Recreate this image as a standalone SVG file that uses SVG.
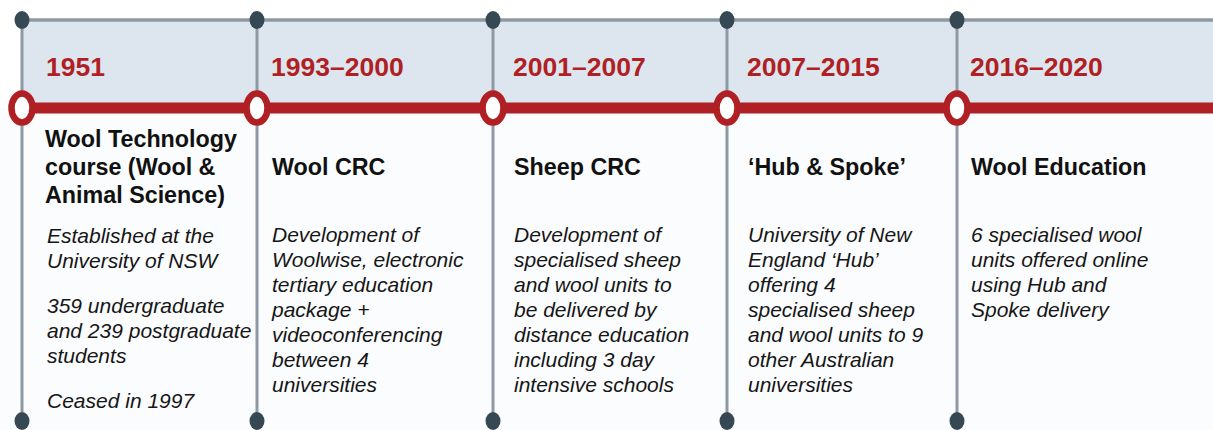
<svg xmlns="http://www.w3.org/2000/svg" width="1213" height="430" viewBox="0 0 1213 430">
  <style>
    .year { font-family: "Liberation Sans", Arial, sans-serif; font-weight: bold; font-size: 26.5px; fill: #b01f24; }
    .title { font-family: "Liberation Sans", Arial, sans-serif; font-weight: bold; font-size: 23.3px; fill: #111111; }
    .body { font-family: "Liberation Sans", Arial, sans-serif; font-style: italic; font-size: 21px; fill: #161616; }
    .rail { stroke: #8d9aa4; stroke-width: 3.5; fill: none; }
    .post { stroke: #8d9aa4; stroke-width: 3; fill: none; }
    .dot { fill: #364854; }
    .ring { fill: #ffffff; stroke: #b01f24; stroke-width: 6.5; }
  </style>

  <!-- background -->
  <rect x="0" y="0" width="1213" height="430" fill="#ffffff"/>
  <rect x="0" y="108" width="1213" height="322" fill="#fbfcfd"/>
  <!-- header band -->
  <rect x="22" y="20" width="1191" height="88" fill="#dde6ee"/>

  <g id="connectors">
    <!-- top rail -->
    <line class="rail" x1="22" y1="20" x2="1213" y2="20"/>
    <!-- vertical posts -->
    <line class="post" x1="22" y1="20" x2="22" y2="421"/>
    <line class="post" x1="257" y1="20" x2="257" y2="421"/>
    <line class="post" x1="493" y1="20" x2="493" y2="421"/>
    <line class="post" x1="727" y1="20" x2="727" y2="421"/>
    <line class="post" x1="957" y1="20" x2="957" y2="421"/>
    <!-- red time axis -->
    <line x1="22" y1="108" x2="1213" y2="108" stroke="#b01f24" stroke-width="11"/>
    <!-- post end caps -->
    <ellipse class="dot" cx="22" cy="20" rx="7.5" ry="9"/>
    <ellipse class="dot" cx="257" cy="20" rx="7.5" ry="9"/>
    <ellipse class="dot" cx="493" cy="20" rx="7.5" ry="9"/>
    <ellipse class="dot" cx="727" cy="20" rx="7.5" ry="9"/>
    <ellipse class="dot" cx="957" cy="20" rx="7.5" ry="9"/>
    <ellipse class="dot" cx="22" cy="421" rx="7.5" ry="9"/>
    <ellipse class="dot" cx="257" cy="421" rx="7.5" ry="9"/>
    <ellipse class="dot" cx="493" cy="421" rx="7.5" ry="9"/>
    <ellipse class="dot" cx="727" cy="421" rx="7.5" ry="9"/>
    <ellipse class="dot" cx="957" cy="421" rx="7.5" ry="9"/>
  </g>

  <g id="era-1951">
    <ellipse class="ring" cx="22" cy="108" rx="10.5" ry="14.5"/>
    <text class="year" x="46" y="76">1951</text>
    <text class="title" x="45">
      <tspan x="45" y="147">Wool Technology</tspan>
      <tspan x="45" y="175">course (Wool &amp;</tspan>
      <tspan x="45" y="203">Animal Science)</tspan>
    </text>
    <text class="body" x="47">
      <tspan x="47" y="243">Established at the</tspan>
      <tspan x="47" y="268">University of NSW</tspan>
      <tspan x="47" y="313">359 undergraduate</tspan>
      <tspan x="47" y="338">and 239 postgraduate</tspan>
      <tspan x="47" y="363">students</tspan>
      <tspan x="47" y="408">Ceased in 1997</tspan>
    </text>
  </g>

  <g id="era-1993-2000">
    <ellipse class="ring" cx="257" cy="108" rx="10.5" ry="14.5"/>
    <text class="year" x="271" y="76">1993–2000</text>
    <text class="title" x="272" y="175">Wool CRC</text>
    <text class="body" x="272">
      <tspan x="272" y="242">Development of</tspan>
      <tspan x="272" y="267">Woolwise, electronic</tspan>
      <tspan x="272" y="292">tertiary education</tspan>
      <tspan x="272" y="317">package +</tspan>
      <tspan x="272" y="342">videoconferencing</tspan>
      <tspan x="272" y="367">between 4</tspan>
      <tspan x="272" y="392">universities</tspan>
    </text>
  </g>

  <g id="era-2001-2007">
    <ellipse class="ring" cx="493" cy="108" rx="10.5" ry="14.5"/>
    <text class="year" x="513" y="76">2001–2007</text>
    <text class="title" x="514" y="175">Sheep CRC</text>
    <text class="body" x="514">
      <tspan x="514" y="242">Development of</tspan>
      <tspan x="514" y="267">specialised sheep</tspan>
      <tspan x="514" y="292">and wool units to</tspan>
      <tspan x="514" y="317">be delivered by</tspan>
      <tspan x="514" y="342">distance education</tspan>
      <tspan x="514" y="367">including 3 day</tspan>
      <tspan x="514" y="392">intensive schools</tspan>
    </text>
  </g>

  <g id="era-2007-2015">
    <ellipse class="ring" cx="727" cy="108" rx="10.5" ry="14.5"/>
    <text class="year" x="747" y="76">2007–2015</text>
    <text class="title" x="748" y="175">‘Hub &amp; Spoke’</text>
    <text class="body" x="748">
      <tspan x="748" y="242">University of New</tspan>
      <tspan x="748" y="267">England ‘Hub’</tspan>
      <tspan x="748" y="292">offering 4</tspan>
      <tspan x="748" y="317">specialised sheep</tspan>
      <tspan x="748" y="342">and wool units to 9</tspan>
      <tspan x="748" y="367">other Australian</tspan>
      <tspan x="748" y="392">universities</tspan>
    </text>
  </g>

  <g id="era-2016-2020">
    <ellipse class="ring" cx="957" cy="108" rx="10.5" ry="14.5"/>
    <text class="year" x="970" y="76">2016–2020</text>
    <text class="title" x="971" y="175">Wool Education</text>
    <text class="body" x="971">
      <tspan x="971" y="242">6 specialised wool</tspan>
      <tspan x="971" y="267">units offered online</tspan>
      <tspan x="971" y="292">using Hub and</tspan>
      <tspan x="971" y="317">Spoke delivery</tspan>
    </text>
  </g>
</svg>
